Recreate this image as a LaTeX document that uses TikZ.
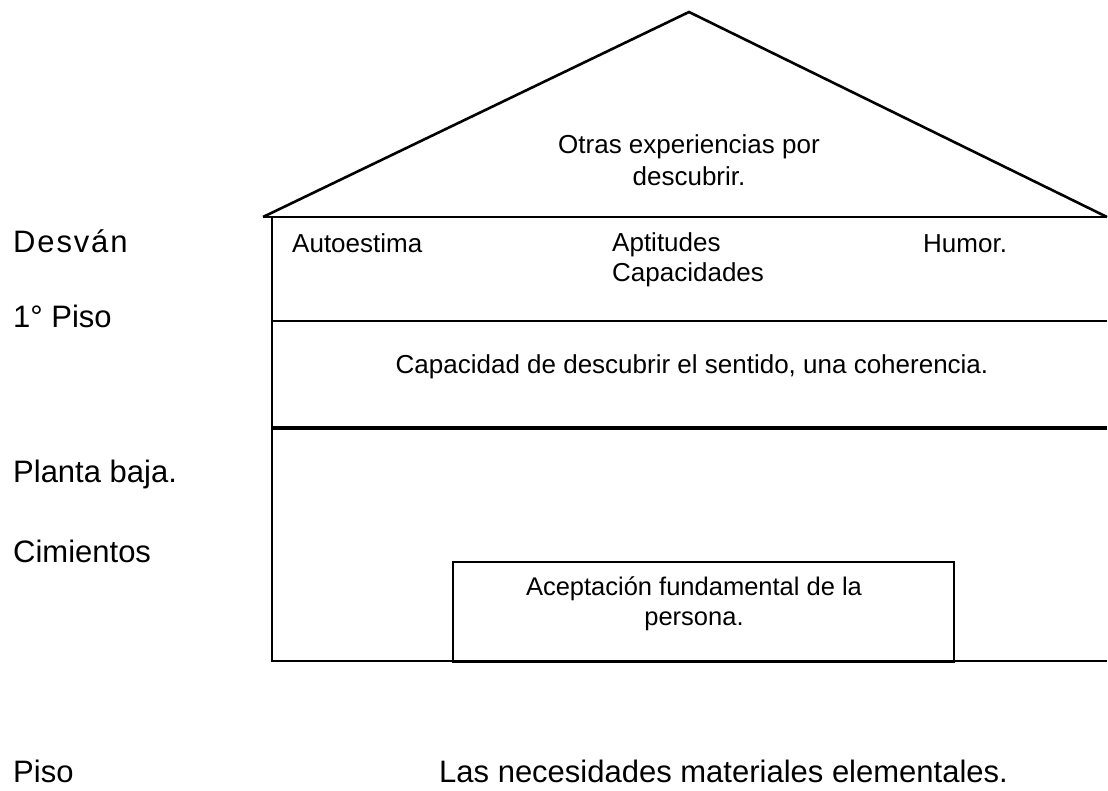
\documentclass[tikz,border=0pt]{standalone}
\usepackage{fontspec}
\setmainfont{Liberation Sans}
\definecolor{Negro}{RGB}{0, 0, 0}
\tikzset{
    muro/.style={draw=Negro, line width=2.6pt},
    losa/.style={draw=Negro, line width=4.5pt},
    etiqueta/.style={anchor=base west, inner sep=0pt, font=\fontsize{31}{36}\selectfont},
    texto/.style={anchor=base west, inner sep=0pt, font=\fontsize{26}{30}\selectfont},
    centrado/.style={anchor=base, inner sep=0pt, align=center, font=\fontsize{26}{32}\selectfont}
}

\begin{document}
\begin{tikzpicture}[x=1pt, y=-1pt]
            \useasboundingbox (0,0) rectangle (1108,790);
            %Techo
            \coordinate (cumbre) at (689,12);
            \coordinate (aleroI) at (263,217);
            \coordinate (aleroD) at (1107,217);
            \draw[muro] (aleroI) -- (cumbre) -- (aleroD);
            \draw[muro] (aleroI) -- (aleroD);
            %Muro y pisos
            \coordinate (muroA) at (272,217);
            \coordinate (muroB) at (272,661);
            \coordinate (finB) at (1107,661);
            \draw[muro] (muroA) -- (muroB) -- (finB);
            \coordinate (p1I) at (272,321);
            \coordinate (p1D) at (1107,321);
            \draw[muro] (p1I) -- (p1D);
            \coordinate (pbI) at (272,428);
            \coordinate (pbD) at (1107,428);
            \draw[losa] (pbI) -- (pbD);
            %Cimientos
            \node[muro, line width=2.4pt, minimum width=501pt, minimum height=100pt, anchor=north west, inner sep=0pt] (cimiento) at (452,561) {};
            %Etiquetas
            \node[etiqueta, font=\fontsize{31}{36}\selectfont\addfontfeature{LetterSpace=6}] (desvan) at (13,252) {Desván};
            \node[etiqueta] (piso1) at (13,327) {1° Piso};
            \node[etiqueta] (planta) at (13,482) {Planta baja.};
            \node[etiqueta] (cimientos) at (13,562) {Cimientos};
            \node[etiqueta] (piso) at (13,782) {Piso};
            %Textos
            \node[centrado] (otras) at (689,185) {Otras experiencias por\\descubrir.};
            \node[texto] (autoestima) at (292,252) {Autoestima};
            \node[texto, align=left] (aptitudes) at (612,281) {Aptitudes\\Capacidades};
            \node[texto] (humor) at (923,252) {Humor.};
            \node[centrado] (sentido) at (692,373) {Capacidad de descubrir el sentido, una coherencia.};
            \node[centrado, font=\fontsize{25.5}{30}\selectfont] (aceptacion) at (694,625) {Aceptación fundamental de la\\persona.};
            \node[etiqueta] (necesidades) at (439,782) {Las necesidades materiales elementales.};
        \end{tikzpicture}
\end{document}
